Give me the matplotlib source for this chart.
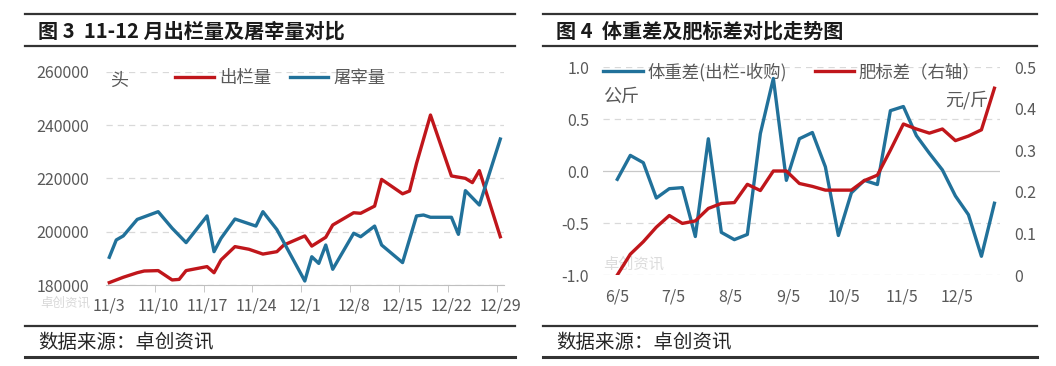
import pandas as pd
import matplotlib
matplotlib.use("Agg")
import matplotlib.pyplot as plt
from matplotlib.lines import Line2D

plt.rcParams['font.family'] = ['Noto Sans CJK SC', 'DejaVu Sans']

W, H = 1056, 366

# ---- 图3: 11-12月出栏量及屠宰量 (day index counted from 11/3) ----
day_labels = ['11/3', '11/10', '11/17', '11/24', '12/1', '12/8', '12/15', '12/22', '12/29']
out_days = [0, 2, 4, 5, 7, 9, 10, 11, 14, 15, 16, 18, 20, 22, 24, 25, 28, 29, 31, 32,
            35, 36, 38, 39, 42, 43, 44, 46, 49, 51, 52, 53, 56]
out_vals = [180900, 182900, 184600, 185250, 185400, 181900, 182100, 185400, 186900, 184600,
            189400, 194400, 193400, 191600, 192500, 195000, 198400, 194600, 197900, 202500,
            207100, 206900, 209600, 219600, 214200, 215250, 225600, 243750, 220900, 220000,
            218400, 222900, 198100]
slaughter_days = [0, 1, 2, 4, 7, 9, 11, 14, 15, 16, 18, 21, 22, 24, 28, 29, 30, 31, 32,
                  35, 36, 38, 39, 42, 44, 45, 46, 49, 50, 51, 53, 56]
slaughter_vals = [190400, 196900, 198400, 204600, 207500, 201300, 195900, 205900, 192500, 197500,
                  204750, 202100, 207500, 200800, 181500, 190600, 188100, 195000, 185900,
                  199400, 198100, 202100, 195000, 188400, 205900, 206250, 205400, 205400, 199000,
                  215400, 210000, 234750]

# ---- 图4: 体重差及肥标差 (weekly from 6/5) ----
week_dates = pd.date_range('2023-06-05', periods=30, freq='7D')
weight_diff = [-0.08, 0.15, 0.08, -0.26, -0.17, -0.16, -0.63, 0.31, -0.59, -0.66,
               -0.61, 0.36, 0.89, -0.09, 0.31, 0.37, 0.04, -0.62, -0.21, -0.09,
               -0.13, 0.58, 0.62, 0.34, 0.17, 0.01, -0.24, -0.42, -0.82, -0.31]
fat_diff = [0.0, 0.05, 0.08, 0.115, 0.143, 0.124, 0.13, 0.16, 0.172, 0.174,
            0.218, 0.203, 0.25, 0.25, 0.22, 0.213, 0.204, 0.204, 0.204, 0.227,
            0.24, 0.30, 0.363, 0.351, 0.341, 0.351, 0.323, 0.334, 0.349, 0.449]
month_ticks = pd.to_datetime(['2023-06-05', '2023-07-05', '2023-08-05', '2023-09-05',
                              '2023-10-05', '2023-11-05', '2023-12-05'])
month_labels = ['6/5', '7/5', '8/5', '9/5', '10/5', '11/5', '12/5']

RED = '#c0161b'
BLUE = '#21719a'
GREY = '#595959'
GRID = '#d9d9d9'

fig = plt.figure(figsize=(W / 100, H / 100), dpi=100)


def rule(y, x0, x1, lw=1.6):
    fig.add_artist(Line2D([x0 / W, x1 / W], [1 - y / H] * 2, color='#333333', lw=lw))


# frame rules, titles and sources
for x0, x1, title in [(25, 515, '图 3  11-12 月出栏量及屠宰量对比'),
                      (543, 1037, '图 4  体重差及肥标差对比走势图')]:
    rule(14, x0, x1)
    rule(46, x0, x1)
    rule(326, x0, x1)
    rule(357, x0, x1, lw=2.2)
    fig.text((x0 + 13) / W, 1 - 31 / H, title, fontsize=14.5, fontweight='bold',
             color='#1a1a1a', va='center', ha='left')
    fig.text((x0 + 13) / W, 1 - 342 / H, '数据来源：卓创资讯', fontsize=14,
             color='#262626', va='center', ha='left')

# ---------------- left chart ----------------
ax = fig.add_axes([105.8 / W, (H - 285) / H, 398 / W, 213.3 / H])
ax.plot(out_days, out_vals, color=RED, lw=2.4, label='出栏量', zorder=3)
ax.plot(slaughter_days, slaughter_vals, color=BLUE, lw=2.4, label='屠宰量', zorder=4)
ax.set_xlim(-0.5, 56.5)
ax.set_ylim(180000, 260000)
ax.set_yticks([180000, 200000, 220000, 240000, 260000])
ax.set_yticklabels(['180000', '200000', '220000', '240000', '260000'])
ax.set_xticks(range(0, 57, 7))
ax.set_xticklabels(day_labels)
ax.set_xticks([d - 0.5 for d in range(7, 57, 7)], minor=True)
ax.grid(axis='y', color=GRID, linestyle=(0, (5, 4)), lw=0.9)
for s in ['top', 'right', 'left']:
    ax.spines[s].set_visible(False)
ax.spines['bottom'].set_color('#bfbfbf')
ax.tick_params(axis='y', length=0, pad=12, labelsize=11.5, labelcolor=GREY)
ax.tick_params(axis='x', which='major', length=0, pad=9, labelsize=11.5, labelcolor=GREY)
ax.tick_params(axis='x', which='minor', length=5, color='#bfbfbf')
ax.text(0.01, 0.955, '头', transform=ax.transAxes, fontsize=13, color=GREY, va='center')
ax.text(-0.04, -0.055, '卓创资讯', transform=ax.transAxes, fontsize=9, color='#d8d8d8',
        ha='right', va='top', zorder=1)
ax.legend(loc='center left', bbox_to_anchor=(0.175, 0.972), ncol=2, frameon=False,
          fontsize=12.5, handlelength=2.2, handletextpad=0.3, columnspacing=1.1,
          borderpad=0, borderaxespad=0, labelcolor=GREY)

# ---------------- right chart ----------------
bx = fig.add_axes([603 / W, (H - 275) / H, 397 / W, 208 / H])
bx2 = bx.twinx()
l1, = bx.plot(week_dates, weight_diff, color=BLUE, lw=2.4, label='体重差(出栏-收购)')
l2, = bx2.plot(week_dates, fat_diff, color=RED, lw=2.4, label='肥标差（右轴）')
bx.set_xlim(week_dates[0] - pd.Timedelta(days=7.7), week_dates[-1] + pd.Timedelta(days=3))
bx.set_ylim(-1.0, 1.0)
bx2.set_ylim(0, 0.5)
bx.set_yticks([-1.0, -0.5, 0.0, 0.5, 1.0])
bx.set_yticklabels(['-1.0', '-0.5', '0.0', '0.5', '1.0'])
bx2.set_yticks([0, 0.1, 0.2, 0.3, 0.4, 0.5])
bx2.set_yticklabels(['0', '0.1', '0.2', '0.3', '0.4', '0.5'])
bx.set_xticks(month_ticks)
bx.set_xticklabels(month_labels)
for yv in [-1.0, -0.5, 0.5, 1.0]:
    bx.axhline(yv, color=GRID, linestyle=(0, (5, 4)), lw=0.9, zorder=0)
bx.axhline(0.0, color='#c8c8c8', lw=0.9, zorder=0)
for a in (bx, bx2):
    for s in a.spines.values():
        s.set_visible(False)
bx.tick_params(axis='y', length=0, pad=10, labelsize=11.5, labelcolor=GREY)
bx2.tick_params(axis='y', length=0, pad=10, labelsize=11.5, labelcolor=GREY)
bx.tick_params(axis='x', length=0, pad=10, labelsize=11.5, labelcolor=GREY)
bx.text(0.0, 0.855, '公斤', transform=bx.transAxes, fontsize=13, color=GREY, va='center')
bx2.text(0.97, 0.84, '元/斤', transform=bx2.transAxes, fontsize=13, color=GREY,
         va='center', ha='right')
bx.text(0.0, 0.01, '卓创资讯', transform=bx.transAxes, fontsize=11, color='#dcdcdc',
        ha='left', va='bottom', zorder=1)
bx2.legend(handles=[l1, l2], loc='center left', bbox_to_anchor=(0.0, 0.977), ncol=2,
           frameon=False, fontsize=12.5, handlelength=2.3, handletextpad=0.25,
           columnspacing=1.6, borderpad=0, borderaxespad=0, labelcolor=GREY)

fig.savefig('out.png', dpi=100)
